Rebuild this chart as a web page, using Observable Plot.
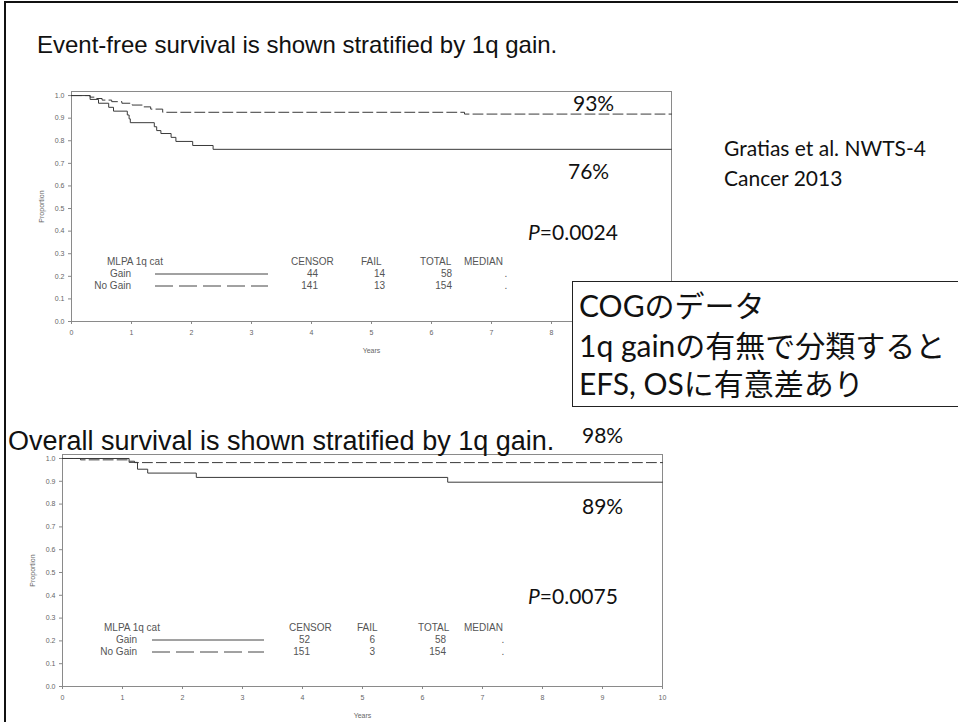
<!DOCTYPE html>
<html>
<head>
<meta charset="utf-8">
<script src="https://cdn.jsdelivr.net/npm/d3@7"></script>
<script src="https://cdn.jsdelivr.net/npm/@observablehq/plot@0.6"></script>
<style>
  body { margin: 0; background: #fff; }
  #slide { position: relative; width: 958px; height: 722px; overflow: hidden; background: #fff; font-family: "Liberation Sans", Arial, sans-serif; }
  .t { position: absolute; white-space: nowrap; line-height: 1; }
  .plot { position: absolute; left: 0; }
</style>
</head>
<body>
<div id="slide"></div>
<script>
// ---------------- data ----------------
const xTicks = [0, 1, 2, 3, 4, 5, 6, 7, 8, 9, 10];
const xTicksVisibleTop = [0, 1, 2, 3, 4, 5, 6, 7, 8]; // 9 and 10 are hidden under the text box
const yTicks = [0, 0.1, 0.2, 0.3, 0.4, 0.5, 0.6, 0.7, 0.8, 0.9, 1.0];

// Event-free survival (top)
const efsGainTime = [0, 0.31, 0.45, 0.62, 0.70, 0.93, 0.96, 0.98, 1.38, 1.42, 1.49, 1.66, 1.74, 2.02, 2.36, 10];
const efsGainSurv = [1, 0.983, 0.966, 0.948, 0.931, 0.914, 0.897, 0.880, 0.862, 0.845, 0.832, 0.815, 0.797, 0.779, 0.762, 0.762];
const efsNoGainTime = [0, 0.31, 0.42, 0.51, 0.67, 0.84, 1.01, 1.18, 1.32, 1.52, 6.55, 10];
const efsNoGainSurv = [1, 0.993, 0.987, 0.980, 0.973, 0.966, 0.958, 0.950, 0.940, 0.926, 0.918, 0.918];

// Overall survival (bottom)
const osGainTime = [0, 1.11, 1.25, 1.42, 2.23, 6.42, 10];
const osGainSurv = [1, 0.983, 0.953, 0.936, 0.917, 0.896, 0.896];
const osNoGainTime = [0, 0.30, 1.11, 1.20, 10];
const osNoGainSurv = [1, 0.994, 0.988, 0.982, 0.982];

// legend tables
const groups = ["Gain", "No Gain"];
const tableHeads = ["CENSOR", "FAIL", "TOTAL", "MEDIAN"];
const efsCensor = [44, 141], efsFail = [14, 13], efsTotal = [58, 154], efsMedian = [".", "."];
const osCensor = [52, 151], osFail = [6, 3], osTotal = [58, 154], osMedian = [".", "."];

// texts
const title1 = "Event-free survival is shown stratified by 1q gain.";
const title2 = "Overall survival is shown stratified by 1q gain.";
const efsRates = ["93%", "76%"], efsP = "0.0024";
const osRates = ["98%", "89%"], osP = "0.0075";
const citation = ["Gratias et al. NWTS-4", "Cancer 2013"];
const boxLines = ["COGのデータ", "1q gainの有無で分類すると", "EFS, OSに有意差あり"];

// ---------------- helpers ----------------
const slide = document.getElementById("slide");
function txt(s, left, cy, css = {}, align = "left") {
  const d = document.createElement("div");
  d.className = "t";
  d.textContent = s;
  d.style.left = left + "px";
  d.style.top = cy + "px";
  d.style.transform = align === "right" ? "translate(-100%,-50%)" : align === "center" ? "translate(-50%,-50%)" : "translate(0,-50%)";
  Object.assign(d.style, css);
  slide.appendChild(d);
  return d;
}
function zip(t, s) { return t.map((v, i) => ({t: v, s: s[i]})); }

function kmPlot({gT, gS, nT, nS, height, marginLeft, marginRight, marginTop, marginBottom, yTop, ticksX}) {
  return Plot.plot({
    width: 700, height, marginLeft, marginRight, marginTop, marginBottom,
    style: {fontFamily: "'Liberation Sans', Arial, sans-serif", fontSize: "7px", color: "#666", background: "transparent", overflow: "visible"},
    x: {domain: [0, 10]},
    y: {domain: [0, yTop]},
    marks: [
      Plot.frame({stroke: "#8a8a8a"}),
      Plot.axisX({ticks: ticksX, tickSize: 3, tickPadding: 6, stroke: "#888", label: "Years", labelAnchor: "center", labelArrow: "none", labelOffset: 31}),
      Plot.axisY({ticks: yTicks, tickFormat: d => d.toFixed(1), tickSize: 3, tickPadding: 4, stroke: "#888", label: "Proportion", labelAnchor: "center", labelArrow: "none", labelOffset: 32}),
      Plot.line(zip(gT, gS), {x: "t", y: "s", curve: "step-after", stroke: "#3a3a3a", strokeWidth: 1}),
      Plot.line(zip(nT, nS), {x: "t", y: "s", curve: "step-after", stroke: "#3a3a3a", strokeWidth: 1, strokeDasharray: "10,4"})
    ]
  });
}

// ---------------- slide frame ----------------
const topBorder = document.createElement("div");
Object.assign(topBorder.style, {position: "absolute", left: "4px", top: "1px", width: "960px", height: "2px", background: "#111"});
slide.appendChild(topBorder);
const leftBorder = document.createElement("div");
Object.assign(leftBorder.style, {position: "absolute", left: "4px", top: "1px", width: "2px", height: "730px", background: "#111"});
slide.appendChild(leftBorder);

// ---------------- plots ----------------
const p1 = kmPlot({gT: efsGainTime, gS: efsGainSurv, nT: efsNoGainTime, nS: efsNoGainSurv,
  height: 370, marginLeft: 71, marginRight: 29, marginTop: 91, marginBottom: 49, yTop: 1.018, ticksX: xTicksVisibleTop});
p1.classList.add("plot"); p1.style.top = "0px";
slide.appendChild(p1);

const p2 = kmPlot({gT: osGainTime, gS: osGainSurv, nT: osNoGainTime, nS: osNoGainSurv,
  height: 322, marginLeft: 62, marginRight: 38, marginTop: 54, marginBottom: 36, yTop: 1.0175, ticksX: xTicks});
p2.classList.add("plot"); p2.style.top = "400px";
slide.appendChild(p2);

// ---------------- legend tables ----------------
function legend(cfg) {
  const st = {fontSize: "10px", color: "#555", fontFamily: "'Liberation Sans', Arial, sans-serif"};
  txt("MLPA 1q cat", cfg.mlpaX, cfg.rows[0], st);
  groups.forEach((g, i) => txt(g, cfg.groupRight, cfg.rows[i + 1], st, "right"));
  const svg = d3.create("svg").attr("width", 958).attr("height", 722)
    .style("position", "absolute").style("left", 0).style("top", 0).style("pointer-events", "none");
  groups.forEach((g, i) => {
    svg.append("line").attr("x1", cfg.line[0]).attr("x2", cfg.line[1])
      .attr("y1", cfg.rows[i + 1]).attr("y2", cfg.rows[i + 1])
      .attr("stroke", "#444").attr("stroke-width", 1)
      .attr("stroke-dasharray", i === 1 ? "18,6" : null);
  });
  slide.appendChild(svg.node());
  tableHeads.forEach((h, j) => txt(h, cfg.headX[j], cfg.rows[0], st));
  const cols = [cfg.censor, cfg.fail, cfg.total, cfg.median];
  cols.forEach((col, j) => col.forEach((v, i) => txt(String(v), cfg.numRight[j], cfg.rows[i + 1], st, j === 3 ? "center" : "right")));
}
legend({rows: [262, 274, 286], mlpaX: 107, groupRight: 131, line: [155, 268],
  headX: [291, 361, 420, 464], numRight: [318, 385, 452, 506],
  censor: efsCensor, fail: efsFail, total: efsTotal, median: efsMedian});
legend({rows: [628, 640, 652], mlpaX: 104, groupRight: 137, line: [152, 264],
  headX: [289, 357, 418, 464], numRight: [310, 375, 446, 503],
  censor: osCensor, fail: osFail, total: osTotal, median: osMedian});

// ---------------- titles & annotations ----------------
const arial = {fontFamily: "'Liberation Sans', Arial, sans-serif", color: "#111"};
txt(title1, 37, 45, {...arial, fontSize: "24px"});
txt(title2, 8, 441, {...arial, fontSize: "27px"});

const cal = {fontFamily: "Lato, 'Noto Sans CJK JP', sans-serif", color: "#111"};
txt(efsRates[0], 573, 102, {...cal, fontSize: "21px"});
txt(efsRates[1], 568, 170, {...cal, fontSize: "21px"});
const pe = txt("", 528, 231, {...cal, fontSize: "21px"});
pe.innerHTML = "<i>P</i>=" + efsP;
txt(osRates[0], 582, 434, {...cal, fontSize: "21px"});
txt(osRates[1], 582, 505, {...cal, fontSize: "21px"});
const po = txt("", 528, 595, {...cal, fontSize: "21px"});
po.innerHTML = "<i>P</i>=" + osP;

txt(citation[0], 724, 147, {...cal, fontSize: "21px"});
txt(citation[1], 724, 177, {...cal, fontSize: "21px"});

// ---------------- text box ----------------
const box = document.createElement("div");
Object.assign(box.style, {position: "absolute", left: "572px", top: "281px", width: "400px", height: "124px",
  border: "1px solid #222", background: "#fff"});
slide.appendChild(box);
const boxY = [305, 345, 383];
boxLines.forEach((s, i) => txt(s, 579, boxY[i], {...cal, fontSize: "30px"}));
</script>
</body>
</html>
